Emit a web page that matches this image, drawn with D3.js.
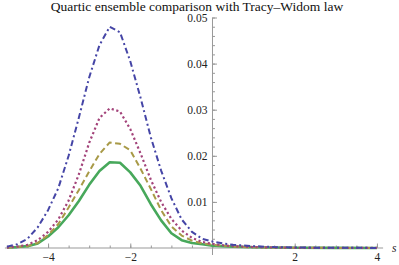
<!DOCTYPE html>
<html>
<head>
<meta charset="utf-8">
<script src="https://cdn.jsdelivr.net/npm/d3@7"></script>
<style>
  body { margin: 0; background: #fff; }
  svg { display: block; }
  svg text { font-family: 'Liberation Serif', 'DejaVu Serif', serif; }
</style>
</head>
<body>
<svg id="chart"></svg>
<script>
const WIDTH = 399;
const HEIGHT = 265;
const TITLE = 'Quartic ensemble comparison with Tracy\u2013Widom law';

// sample points along s
const sValues = [-5, -4.75, -4.5, -4.25, -4, -3.75, -3.5, -3.25, -3, -2.75, -2.5, -2.25, -2,
  -1.75, -1.5, -1.25, -1, -0.75, -0.5, -0.25, 0, 0.25, 0.5, 1, 1.5, 2, 3, 4];

// densities
const blueValues = [0.0003, 0.0008, 0.0020, 0.0045, 0.0082, 0.0130, 0.0200, 0.0283, 0.0370, 0.0440,
  0.0480, 0.0468, 0.0405, 0.0326, 0.0240, 0.0168, 0.0108, 0.0062, 0.0035, 0.0020,
  0.0014, 0.0010, 0.0007, 0.0004, 0.0002, 0.0001, 0.00005, 0.00002];
const purpleValues = [0.0001, 0.0003, 0.0007, 0.0017, 0.0035, 0.0062, 0.0103, 0.0160, 0.0228, 0.0282,
  0.0303, 0.0296, 0.0258, 0.0205, 0.0148, 0.0100, 0.0063, 0.0038, 0.0022, 0.0013,
  0.0009, 0.0006, 0.0004, 0.0002, 0.0001, 0.00005, 0.00002, 0.00001];
const goldValues = [0.0001, 0.0002, 0.0004, 0.0011, 0.0028, 0.0052, 0.0088, 0.0126, 0.0166, 0.0204,
  0.0229, 0.0226, 0.0212, 0.0172, 0.0128, 0.0082, 0.0047, 0.0027, 0.0016, 0.0010,
  0.0007, 0.0005, 0.0003, 0.00015, 0.0001, 0.00005, 0.00002, 0.00001];
const greenValues = [0.0001, 0.0002, 0.0004, 0.0010, 0.0025, 0.0045, 0.0071, 0.0102, 0.0137, 0.0167,
  0.0186, 0.0185, 0.0164, 0.0135, 0.0095, 0.0060, 0.0032, 0.0017, 0.0011, 0.0008,
  0.0005, 0.0004, 0.0003, 0.00015, 0.0001, 0.00005, 0.00002, 0.00001];

const xTicks = [-4, -2, 2, 4];
const yTicks = [0.01, 0.02, 0.03, 0.04, 0.05];

const series = [
  { values: blueValues, color: '#4545a6', dash: '6,3,2,3', width: 2 },
  { values: purpleValues, color: '#a3437a', dash: '2.2,2.6', width: 2.2 },
  { values: goldValues, color: '#a89a47', dash: '6,3.5', width: 2 },
  { values: greenValues, color: '#47a85b', dash: null, width: 2.6 }
];

const x = d3.scaleLinear().domain([-5.05, 4.15]).range([4.9, 383.1]);
const y = d3.scaleLinear().domain([0, 0.05]).range([248, 17.5]);

const svg = d3.select('#chart')
  .attr('width', WIDTH)
  .attr('height', HEIGHT);

// Title
svg.append('text')
  .attr('x', 197)
  .attr('y', 11)
  .attr('text-anchor', 'middle')
  .attr('font-size', 13.5)
  .attr('fill', '#111')
  .text(TITLE);

const minus = d => String(d).replace('-', '\u2212');

// X axis, minor ticks then major
const gx = svg.append('g').attr('transform', 'translate(0,' + y(0) + ')');
gx.append('g')
  .call(d3.axisBottom(x).tickValues(d3.range(-5, 4.01, 0.5)).tickSize(-2.5).tickFormat(''))
  .call(g => g.select('.domain').remove());
gx.append('g')
  .call(d3.axisBottom(x).tickValues(xTicks).tickSize(-4.5).tickPadding(5).tickFormat(minus))
  .call(g => g.select('.domain').attr('d', 'M' + x.range()[0] + ',0H' + x.range()[1]));
gx.selectAll('line, path').attr('stroke', '#999');
gx.selectAll('text')
  .style('font-family', "'Liberation Serif', serif")
  .style('font-size', '11.5px')
  .attr('fill', '#222');

svg.append('text')
  .attr('x', 392)
  .attr('y', 252)
  .attr('font-size', 11.5)
  .attr('font-style', 'italic')
  .attr('fill', '#222')
  .text('s');

// Y axis
const gy = svg.append('g').attr('transform', 'translate(' + x(0) + ',0)');
gy.append('g')
  .call(d3.axisLeft(y).tickValues(d3.range(0.002, 0.0501, 0.002)).tickSize(-2.5).tickFormat(''))
  .call(g => g.select('.domain').remove());
gy.append('g')
  .call(d3.axisLeft(y).tickValues(yTicks).tickSize(-4.5).tickPadding(5).tickFormat(d3.format('.2f')))
  .call(g => g.select('.domain').attr('d', 'M0,' + (y(0) + 7) + 'V' + y(0.05)));
gy.selectAll('line, path').attr('stroke', '#999');
gy.selectAll('text')
  .style('font-family', "'Liberation Serif', serif")
  .style('font-size', '11.5px')
  .attr('fill', '#222');

// Curves
const line = d3.line()
  .x((d, i) => x(sValues[i]))
  .y(d => y(d));

svg.append('g')
  .selectAll('path')
  .data(series.slice().reverse())
  .enter()
  .append('path')
  .attr('fill', 'none')
  .attr('stroke', d => d.color)
  .attr('stroke-width', d => d.width)
  .attr('stroke-dasharray', d => d.dash)
  .attr('stroke-linejoin', 'round')
  .attr('d', d => line(d.values));
</script>
</body>
</html>
